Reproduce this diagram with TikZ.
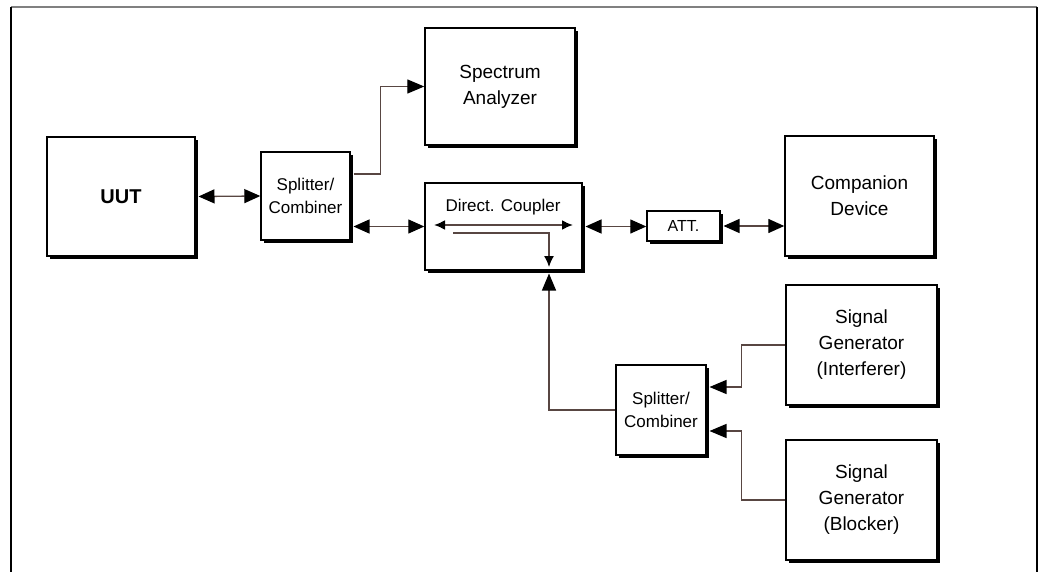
\documentclass[tikz,border=0pt]{standalone}
\usepackage{fontspec}
\setmainfont{Liberation Sans}
\definecolor{wirebrown}{RGB}{88,70,66}
\usetikzlibrary{arrows.meta,shadows}

\begin{document}
\begin{tikzpicture}[x=1pt,y=-1pt,
    blk/.style={draw,rectangle,line width=1.4pt,fill=white,align=center,
      drop shadow={shadow xshift=2.8pt,shadow yshift=-2.8pt,fill=black,opacity=1},
      font=\fontsize{19}{26}\selectfont},
    small/.style={font=\fontsize{17}{23}\selectfont},
    wire/.style={draw=wirebrown,line width=1.3pt},
    tip/.style={-{Triangle[length=17pt,width=14pt,color=black]}},
    bitip/.style={{Triangle[length=16pt,width=14pt,color=black]}-{Triangle[length=16pt,width=14pt,color=black]}},
    cptip/.style={-{Latex[length=11pt,width=10pt,color=black]}},
    cpbitip/.style={{Latex[length=11pt,width=10pt,color=black]}-{Latex[length=11pt,width=10pt,color=black]}}]
    \useasboundingbox (0,0) rectangle (1041,572);
    % frame
    \draw[gray,line width=1.5pt] (11,7) -- (1037,7);
    \draw[line width=1.2pt] (11,7) -- (11,572);
    \draw[line width=1.2pt] (1037,7) -- (1037,572);
    % blocks
    \node[blk,minimum width=148pt,minimum height=119pt,font=\fontsize{20}{24}\bfseries\selectfont] (uut) at (121,196.5) {UUT};
    \node[blk,small,minimum width=89pt,minimum height=88pt] (split1) at (305.5,196) {Splitter/\\Combiner};
    \node[blk,minimum width=150pt,minimum height=117pt] (spec) at (500,86.5) {Spectrum\\Analyzer};
    \node[blk,minimum width=157pt,minimum height=87pt] (coupler) at (503.5,226.5) {};
    \node[small] (cplabel) at (503,207) {Direct. Coupler};
    \node[blk,minimum width=73pt,minimum height=30pt,font=\fontsize{16}{20}\selectfont] (att) at (683.5,226) {ATT.};
    \node[blk,minimum width=149pt,minimum height=120pt] (comp) at (859.5,196) {Companion\\Device};
    \node[blk,minimum width=151pt,minimum height=120pt] (sgi) at (861.5,345) {Signal\\Generator\\(Interferer)};
    \node[blk,small,minimum width=90pt,minimum height=90pt] (split2) at (661,410) {Splitter/\\Combiner};
    \node[blk,minimum width=151pt,minimum height=120pt] (sgb) at (861.5,500) {Signal\\Generator\\(Blocker)};
    % coupler inside
    \coordinate (cpl) at (434,225);
    \coordinate (cpr) at (573,225);
    \coordinate (cpa) at (453,233);
    \coordinate (cpb) at (549,233);
    \coordinate (cpc) at (549,267);
    \draw[wire,line width=2pt,cpbitip] (cpl) -- (cpr);
    \draw[wire,cptip] (cpa) -- (cpb) -- (cpc);
    % connections
    \draw[wire,bitip] ([xshift=2.8pt]uut.east) -- (split1.west);
    \draw[wire,tip] ([xshift=2.8pt,yshift=22pt]split1.east) -- ++(27,0) |- (spec.west);
    \draw[wire,bitip] ([xshift=2.8pt]coupler.west -| split1.east) -- (coupler.west);
    \draw[wire,bitip] ([xshift=2.8pt]coupler.east) -- (coupler.east -| att.west);
    \draw[wire,bitip] ([xshift=2.8pt]att.east) -- (att.east -| comp.west);
    \draw[wire,tip] (split2.west) -| ([xshift=45.5pt,yshift=-2.8pt]coupler.south);
    \draw[wire,tip] (sgi.west) -- ++(-44,0) |- ([xshift=2.8pt,yshift=23pt]split2.east);
    \draw[wire,tip] (sgb.west) -- ++(-44,0) |- ([xshift=2.8pt,yshift=-21pt]split2.east);
\end{tikzpicture}
\end{document}
